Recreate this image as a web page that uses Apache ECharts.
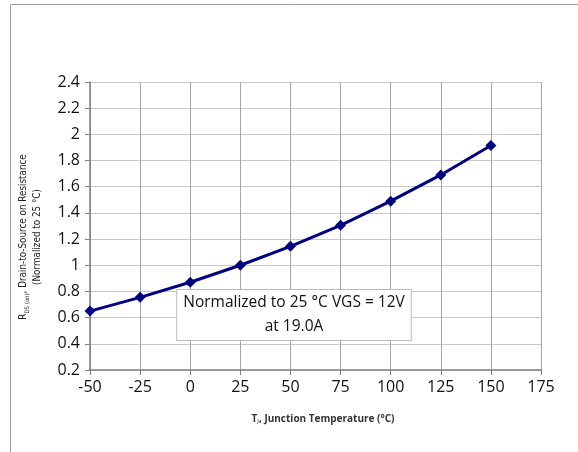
<!DOCTYPE html>
<html><head><meta charset="utf-8">
<script src="https://cdn.jsdelivr.net/npm/echarts@6/dist/echarts.min.js"></script>
<style>html,body{margin:0;padding:0;background:#fff}#c{width:578px;height:452px}</style>
</head><body><div id="c"></div>
<script>
const temps = [-50, -25, 0, 25, 50, 75, 100, 125, 150];
const rdsNorm = [0.65, 0.755, 0.87, 1.0, 1.145, 1.305, 1.49, 1.69, 1.915];
const xTicks = {min: -50, max: 175, step: 25};
const yTicks = {min: 0.2, max: 2.4, step: 0.2};
const noteLines = ['Normalized to 25 °C VGS = 12V', 'at 19.0A'];

const chart = echarts.init(document.getElementById('c'), null, {renderer: 'canvas'});
const font = 'Open Sans, Liberation Sans, sans-serif';
const narrow = 'Liberation Sans Narrow, DejaVu Sans Condensed, sans-serif';
chart.setOption({
  animation: false,
  grid: {left: 90, right: 37, top: 82, bottom: 82},
  graphic: [
    {type: 'polyline', shape: {points: [[10.5, 460], [10.5, 4.5], [590, 4.5]]},
     style: {stroke: '#a0a0a0', lineWidth: 1, fill: null}},
    {type: 'text', x: 294, y: 290, z: 10,
     style: {text: noteLines.join('\n'), font: '15.5px ' + font, fill: '#111',
       align: 'center', verticalAlign: 'top', lineHeight: 24, backgroundColor: '#fff',
       borderColor: '#bbb', borderWidth: 1, padding: [1, 6, 1, 6]}},
    {type: 'text', x: 30, y: 237, rotation: Math.PI / 2, z: 10,
     style: {text: '{n|R}{s|DS (on)}{n|, Drain-to-Source on Resistance}\n{n|(Normalized to 25 °C)}',
       align: 'center', verticalAlign: 'middle',
       rich: {
         n: {fontSize: 9.8, fontFamily: narrow, fill: '#222', lineHeight: 14},
         s: {fontSize: 6, fontFamily: narrow, fill: '#222', lineHeight: 14, verticalAlign: 'bottom'}
       }}},
    {type: 'text', x: 323, y: 419, z: 10,
     style: {text: '{n|T}{s|J}{n|, Junction Temperature (°C)}',
       align: 'center', verticalAlign: 'middle',
       rich: {
         n: {fontSize: 10, fontFamily: font, fill: '#333', fontWeight: 'bold'},
         s: {fontSize: 6, fontFamily: font, fill: '#333', verticalAlign: 'bottom'}
       }}}
  ],
  xAxis: {
    type: 'value', min: xTicks.min, max: xTicks.max, interval: xTicks.step,
    axisLine: {onZero: false, lineStyle: {color: '#808080', width: 1.5}},
    axisTick: {show: true, length: 5, lineStyle: {color: '#808080'}},
    axisLabel: {color: '#111', fontSize: 16, fontFamily: font, margin: 9},
    splitLine: {show: true, lineStyle: {color: '#a6a6a6', width: 1}}
  },
  yAxis: {
    type: 'value', min: yTicks.min, max: yTicks.max, interval: yTicks.step,
    axisLine: {show: true, onZero: false, lineStyle: {color: '#808080', width: 1.5}},
    axisTick: {show: true, length: 5, lineStyle: {color: '#808080'}},
    axisLabel: {color: '#111', fontSize: 16, fontFamily: font, margin: 10,
      formatter: v => String(+v.toFixed(1))},
    splitLine: {show: true, lineStyle: {color: '#c8c8c8', width: 1}}
  },
  series: [{
    type: 'line',
    data: temps.map((t, i) => [t, rdsNorm[i]]),
    symbol: 'diamond', symbolSize: 11,
    lineStyle: {color: '#000080', width: 3},
    itemStyle: {color: '#000080'}
  }]
});
</script></body></html>
